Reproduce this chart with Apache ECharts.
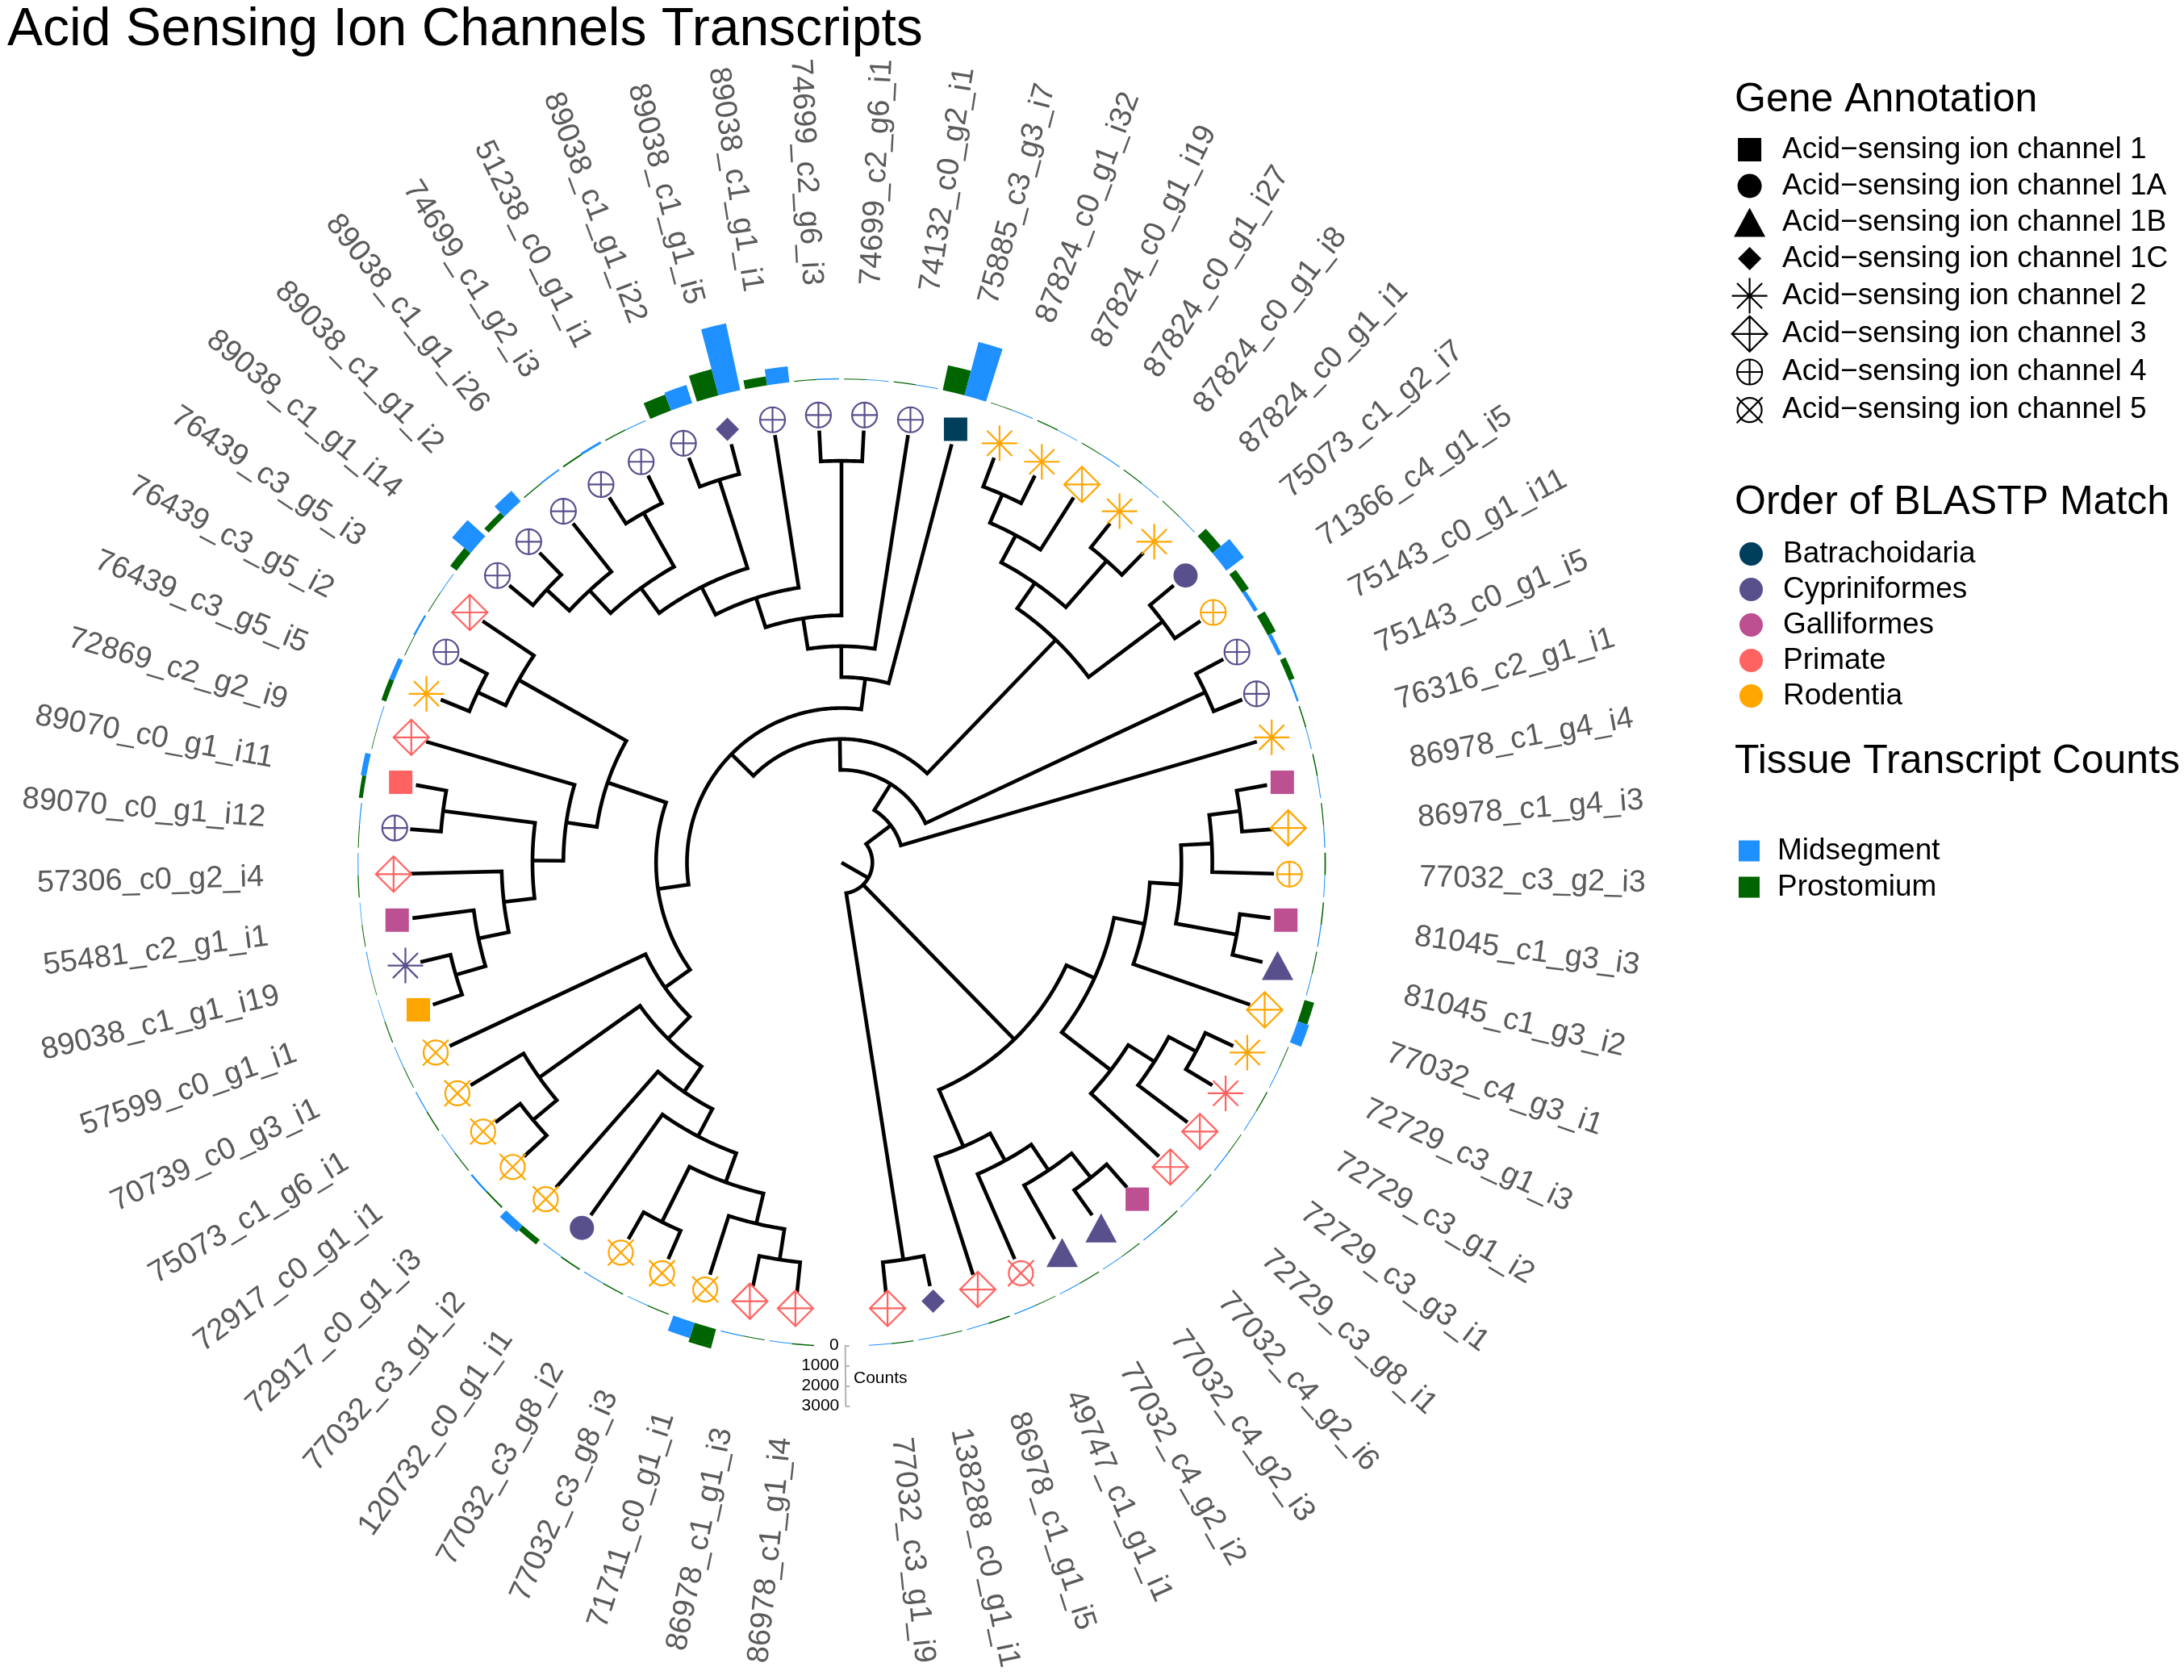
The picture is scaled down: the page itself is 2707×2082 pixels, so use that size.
<!DOCTYPE html>
<html>
  <head>
    <meta charset="utf-8" />
    <title>Acid Sensing Ion Channels Transcripts</title>
    <script src="https://cdn.jsdelivr.net/npm/echarts@6.0.0/dist/echarts.min.js"></script>
    <style>
      html, body { margin: 0; padding: 0; background: #fff; }
      #main { width: 2707px; height: 2082px; }
    </style>
  </head>
  <body>
    <div id="main"></div>
    <script type="text/javascript">
      // ---------- data ----------
      // tips in clockwise order, starting just left of the gap at the bottom
      var tipLabels = [
        '86978_c1_g1_i4', '86978_c1_g1_i3', '71711_c0_g1_i1', '77032_c3_g8_i3', '77032_c3_g8_i2',
        '120732_c0_g1_i1', '77032_c3_g1_i2', '72917_c0_g1_i3', '72917_c0_g1_i1', '75073_c1_g6_i1',
        '70739_c0_g3_i1', '57599_c0_g1_i1', '89038_c1_g1_i19', '55481_c2_g1_i1', '57306_c0_g2_i4',
        '89070_c0_g1_i12', '89070_c0_g1_i11', '72869_c2_g2_i9', '76439_c3_g5_i5', '76439_c3_g5_i2',
        '76439_c3_g5_i3', '89038_c1_g1_i14', '89038_c1_g1_i2', '89038_c1_g1_i26', '74699_c1_g2_i3',
        '51238_c0_g1_i1', '89038_c1_g1_i22', '89038_c1_g1_i5', '89038_c1_g1_i1', '74699_c2_g6_i3',
        '74699_c2_g6_i1', '74132_c0_g2_i1', '75885_c3_g3_i7', '87824_c0_g1_i32', '87824_c0_g1_i19',
        '87824_c0_g1_i27', '87824_c0_g1_i8', '87824_c0_g1_i1', '75073_c1_g2_i7', '71366_c4_g1_i5',
        '75143_c0_g1_i11', '75143_c0_g1_i5', '76316_c2_g1_i1', '86978_c1_g4_i4', '86978_c1_g4_i3',
        '77032_c3_g2_i3', '81045_c1_g3_i3', '81045_c1_g3_i2', '77032_c4_g3_i1', '72729_c3_g1_i3',
        '72729_c3_g1_i2', '72729_c3_g3_i1', '72729_c3_g8_i1', '77032_c4_g2_i6', '77032_c4_g2_i3',
        '77032_c4_g2_i2', '49747_c1_g1_i1', '86978_c1_g1_i5', '138288_c0_g1_i1', '77032_c3_g1_i9'
      ];
      var geneAnnotation = [
        '3', '3', '5', '5', '5', '1A', '5', '5', '5', '5',
        '5', '1', '2', '1', '3', '4', '1', '3', '2', '4',
        '3', '4', '4', '4', '4', '4', '4', '1C', '4', '4',
        '4', '4', '1', '2', '2', '3', '2', '2', '1A', '4',
        '4', '4', '2', '1', '3', '4', '1', '1B', '3', '2',
        '2', '3', '3', '1', '1B', '1B', '5', '3', '1C', '3'
      ];
      var blastOrder = [
        'Primate', 'Primate', 'Rodentia', 'Rodentia', 'Rodentia', 'Cypriniformes', 'Rodentia', 'Rodentia', 'Rodentia', 'Rodentia',
        'Rodentia', 'Rodentia', 'Cypriniformes', 'Galliformes', 'Primate', 'Cypriniformes', 'Primate', 'Primate', 'Rodentia', 'Cypriniformes',
        'Primate', 'Cypriniformes', 'Cypriniformes', 'Cypriniformes', 'Cypriniformes', 'Cypriniformes', 'Cypriniformes', 'Cypriniformes', 'Cypriniformes', 'Cypriniformes',
        'Cypriniformes', 'Cypriniformes', 'Batrachoidaria', 'Rodentia', 'Rodentia', 'Rodentia', 'Rodentia', 'Rodentia', 'Cypriniformes', 'Rodentia',
        'Cypriniformes', 'Cypriniformes', 'Rodentia', 'Galliformes', 'Rodentia', 'Rodentia', 'Galliformes', 'Cypriniformes', 'Rodentia', 'Rodentia',
        'Primate', 'Primate', 'Primate', 'Galliformes', 'Cypriniformes', 'Cypriniformes', 'Primate', 'Primate', 'Cypriniformes', 'Primate'
      ];
      var prostomium = [
        60, 40, 1000, 50, 60, 70, 300, 80, 50, 60,
        40, 50, 30, 40, 50, 40, 200, 30, 250, 40,
        40, 400, 300, 60, 80, 60, 850, 1350, 440, 50,
        40, 50, 1270, 40, 50, 40, 50, 40, 550, 400,
        450, 300, 60, 60, 50, 70, 60, 50, 500, 40,
        50, 40, 50, 60, 40, 50, 40, 60, 40, 50
      ];
      var midsegment = [
        40, 50, 800, 40, 50, 40, 450, 100, 40, 50,
        40, 30, 40, 30, 40, 50, 280, 40, 250, 100,
        40, 1200, 700, 80, 120, 40, 950, 3400, 800, 60,
        40, 40, 2750, 40, 30, 50, 40, 40, 1100, 200,
        200, 100, 40, 40, 50, 40, 50, 40, 600, 40,
        40, 50, 40, 50, 40, 40, 50, 40, 40, 40
      ];
      var countTicks = [0, 1000, 2000, 3000];
      // topology, tips referred to by their position above (1-based)
      var treeNewick =
        '((((((((((((((22,23),24),(25,26)),(27,28)),29),(30,31)),32),33),' +
        '(((((16,17),(15,(14,(12,13)))),18),((19,20),21)),' +
        '(11,((10,(8,9)),(7,(6,((4,5),(3,(1,2))))))))),' +
        '((((34,35),36),(37,38)),(39,40))),(41,42)),43),' +
        '((((((44,45),46),(47,48)),49),(((50,51),52),53)),(58,(57,(56,(54,55))))),' +
        '(59,60))';
      var geneTypes = ['1', '1A', '1B', '1C', '2', '3', '4', '5'];
      var orderNames = ['Batrachoidaria', 'Cypriniformes', 'Galliformes', 'Primate', 'Rodentia'];
      var tissueNames = ['Midsegment', 'Prostomium'];

      // ---------- styles ----------
      var FONT = '"Liberation Sans", Arial, Helvetica, sans-serif';
      var orderColors = {
        Batrachoidaria: '#003f5c', Cypriniformes: '#58508d', Galliformes: '#bc5090',
        Primate: '#ff6361', Rodentia: '#ffa600'
      };
      var tissueColors = { Midsegment: '#1e90ff', Prostomium: '#006400' };
      // shapes drawn in a 45x45 frame so that relative sizes survive scaling
      var F = 'M0,0M45,45';
      var geneSymbols = {
        '1': { path: F + 'M8,8H37V37H8Z', hollow: false },
        '1A': { path: F + 'M7.5,22.5A15,15 0 1,0 37.5,22.5A15,15 0 1,0 7.5,22.5Z', hollow: false },
        '1B': { path: F + 'M22.5,4.5L42,40.5L3,40.5Z', hollow: false },
        '1C': { path: F + 'M22.5,8L37,22.5L22.5,37L8,22.5Z', hollow: false },
        '2': { path: F + 'M22.5,0.5V44.5M0.5,22.5H44.5M6.94,6.94L38.06,38.06M6.94,38.06L38.06,6.94', hollow: true },
        '3': { path: F + 'M22.5,0.5L44.5,22.5L22.5,44.5L0.5,22.5ZM22.5,0.5V44.5M0.5,22.5H44.5', hollow: true },
        '4': { path: F + 'M7,22.5A15.5,15.5 0 1,0 38,22.5A15.5,15.5 0 1,0 7,22.5ZM22.5,7V38M7,22.5H38', hollow: true },
        '5': { path: F + 'M7.5,22.5A15,15 0 1,0 37.5,22.5A15,15 0 1,0 7.5,22.5ZM6.5,6.5L38.5,38.5M6.5,38.5L38.5,6.5', hollow: true }
      };
      var CENTER = [1043, 1069];
      var LEVEL_PX = 38.3;      // one cladogram step
      var TREE_MAX = 20;        // radius axis range of the tree polar
      var RING = 598.7;         // base of the count bars
      var COUNT_PX = 0.0249;    // pixels per count
      var LABEL_LEVEL = 18.7;
      var lineStyle = { stroke: '#000', lineWidth: 4.6, fill: 'none', lineJoin: 'miter' };

      function geneName(g) { return 'Acid\u2212sensing ion channel ' + g; }

      // ---------- tree layout (cladogram) ----------
      function parseNewick(s) {
        var i = 0;
        function node() {
          if (s[i] === '(') {
            i++;
            var kids = [node()];
            while (s[i] === ',') { i++; kids.push(node()); }
            i++;
            return { children: kids };
          }
          var j = i;
          while (i < s.length && /[0-9]/.test(s[i])) i++;
          return { tip: +s.slice(j, i) };
        }
        return node();
      }
      var root = parseNewick(treeNewick);
      var internal = [];
      function place(n) {
        if (n.tip != null) { n.height = 0; n.pos = n.tip; return; }
        n.children.forEach(place);
        n.height = 1 + Math.max.apply(null, n.children.map(function (c) { return c.height; }));
        n.pos = n.children.reduce(function (s, c) { return s + c.pos; }, 0) / n.children.length;
        internal.push(n);
      }
      place(root);
      var tipLevel = root.height;
      internal.forEach(function (n) { n.level = tipLevel - n.height; });
      function levelOf(n) { return n.tip != null ? tipLevel : n.level; }

      // ---------- series ----------
      var series = [];

      series.push({
        type: 'bar', name: 'Prostomium', coordinateSystem: 'polar', polarIndex: 1,
        data: ['-'].concat(prostomium), barGap: '0%', barCategoryGap: '10%',
        itemStyle: { color: tissueColors.Prostomium, opacity: 1 }, silent: true, z: 1
      });
      series.push({
        type: 'bar', name: 'Midsegment', coordinateSystem: 'polar', polarIndex: 1,
        data: ['-'].concat(midsegment), barGap: '0%', barCategoryGap: '10%',
        itemStyle: { color: tissueColors.Midsegment, opacity: 1 }, silent: true, z: 1
      });

      series.push({
        type: 'custom', coordinateSystem: 'polar', polarIndex: 0, silent: true, z: 2,
        data: internal.map(function (n) { return [n.level, n.pos]; }),
        renderItem: function (params, api) {
          var n = internal[params.dataIndex];
          var kids = n.children.slice().sort(function (a, b) { return a.pos - b.pos; });
          var a = kids[0], b = kids[kids.length - 1];
          var pts = [api.coord([levelOf(a), a.pos]), api.coord([n.level, a.pos])];
          for (var p = a.pos + 0.1; p < b.pos; p += 0.1) pts.push(api.coord([n.level, p]));
          pts.push(api.coord([n.level, b.pos]), api.coord([levelOf(b), b.pos]));
          var els = [{ type: 'polyline', shape: { points: pts }, style: lineStyle }];
          kids.slice(1, -1).forEach(function (k) {
            els.push({
              type: 'polyline',
              shape: { points: [api.coord([n.level, k.pos]), api.coord([levelOf(k), k.pos])] },
              style: lineStyle
            });
          });
          return { type: 'group', children: els };
        }
      });

      geneTypes.forEach(function (g) {
        var sym = geneSymbols[g];
        var data = [];
        geneAnnotation.forEach(function (v, i) {
          if (v !== g) return;
          var col = orderColors[blastOrder[i]];
          data.push({
            value: [tipLevel + 0.5, i + 1],
            itemStyle: sym.hollow ? { borderColor: col } : { color: col }
          });
        });
        series.push({
          type: 'scatter', name: geneName(g), coordinateSystem: 'polar', polarIndex: 0,
          symbol: 'path://' + sym.path, symbolSize: 45, silent: true, z: 4,
          itemStyle: sym.hollow
            ? { color: 'transparent', borderColor: '#000', borderWidth: 2.2, opacity: 1 }
            : { color: '#000', borderWidth: 0, opacity: 1 },
          data: data
        });
      });

      orderNames.forEach(function (o) {
        series.push({
          type: 'scatter', name: o, coordinateSystem: 'polar', polarIndex: 0,
          data: [], itemStyle: { color: orderColors[o], opacity: 1 }
        });
      });

      series.push({
        type: 'custom', coordinateSystem: 'polar', polarIndex: 0, silent: true, z: 3,
        data: tipLabels.map(function (t, i) { return [LABEL_LEVEL, i + 1]; }),
        renderItem: function (params, api) {
          var p = api.value(1);
          var pt = api.coord([api.value(0), p]);
          var c = api.coord([0, p]);
          var ang = Math.atan2(c[1] - pt[1], pt[0] - c[0]);
          var right = pt[0] >= c[0];
          return {
            type: 'text', x: pt[0], y: pt[1], rotation: right ? ang : ang + Math.PI,
            style: {
              text: tipLabels[params.dataIndex], fill: '#5a5a5a',
              fontSize: 38, fontFamily: FONT,
              align: right ? 'left' : 'right', verticalAlign: 'middle'
            }
          };
        }
      });

      // tick labels of the count scale, placed on the scale's own radius axis
      series.push({
        type: 'custom', coordinateSystem: 'polar', polarIndex: 2, silent: true, z: 3,
        data: countTicks.map(function (v) { return [v, 0]; }),
        renderItem: function (params, api) {
          var pt = api.coord([api.value(0), api.value(1)]);
          return {
            type: 'text', x: pt[0] - 8, y: pt[1],
            style: {
              text: String(countTicks[params.dataIndex]), fill: '#000',
              fontSize: 21, fontFamily: FONT, align: 'right', verticalAlign: 'middle'
            }
          };
        }
      });

      function legendText(pad) {
        return { fontSize: 37, lineHeight: 37, color: '#000', fontFamily: FONT, padding: [0, 0, 0, pad] };
      }
      var titleText = { fontSize: 50, fontWeight: 'normal', color: '#000', fontFamily: FONT };

      var option = {
        animation: false,
        backgroundColor: '#fff',
        title: [
          { text: 'Acid Sensing Ion Channels Transcripts', left: 4, top: 0,
            textStyle: { fontSize: 66, fontWeight: 'normal', color: '#000', fontFamily: FONT } },
          { text: 'Gene Annotation', left: 2145, top: 94, textStyle: titleText },
          { text: 'Order of BLASTP Match', left: 2145, top: 593, textStyle: titleText },
          { text: 'Tissue Transcript Counts', left: 2145, top: 914, textStyle: titleText },
          { text: 'Counts', left: 1053, top: 1693,
            textStyle: { fontSize: 21, fontWeight: 'normal', color: '#000', fontFamily: FONT } }
        ],
        legend: [
          {
            orient: 'vertical', left: 2140, top: 158, itemWidth: 45, itemHeight: 45, itemGap: 0,
            selectedMode: false, textStyle: legendText(13),
            data: geneTypes.map(function (g) {
              var sym = geneSymbols[g];
              return {
                name: geneName(g), icon: 'path://' + sym.path,
                itemStyle: sym.hollow
                  ? { color: 'transparent', borderColor: '#000', borderWidth: 2.2, opacity: 1 }
                  : { color: '#000', borderWidth: 0, opacity: 1 }
              };
            })
          },
          {
            orient: 'vertical', left: 2151, top: 663, itemWidth: 29, itemHeight: 29, itemGap: 7,
            selectedMode: false, textStyle: legendText(20),
            icon: 'circle', itemStyle: { opacity: 1 }, data: orderNames
          },
          {
            orient: 'vertical', left: 2150, top: 1031, itemWidth: 26, itemHeight: 26, itemGap: 8,
            selectedMode: false, textStyle: legendText(17),
            icon: 'path://M0,0H10V10H0Z', itemStyle: { opacity: 1 }, data: tissueNames
          }
        ],
        polar: [
          { center: CENTER, radius: TREE_MAX * LEVEL_PX },
          { center: CENTER, radius: [RING, RING + 4000 * COUNT_PX] },
          { center: CENTER, radius: [RING, RING + 3000 * COUNT_PX] }
        ],
        angleAxis: [
          { polarIndex: 0, type: 'value', min: 0, max: 61, startAngle: -90, clockwise: true, show: false },
          { polarIndex: 1, type: 'category', data: [''].concat(tipLabels), startAngle: -90 + 180 / 61,
            clockwise: true, show: false },
          { polarIndex: 2, type: 'value', min: 0, max: 360, startAngle: -89.55, show: false }
        ],
        radiusAxis: [
          { polarIndex: 0, type: 'value', min: 0, max: TREE_MAX, show: false },
          { polarIndex: 1, type: 'value', min: 0, max: 4000, show: false },
          {
            polarIndex: 2, type: 'value', min: 0, max: 3000, interval: 1000,
            axisLine: { show: true, lineStyle: { color: '#b3b3b3', width: 2 } },
            axisTick: { show: true, inside: true, length: 5, lineStyle: { color: '#b3b3b3', width: 2 } },
            axisLabel: { show: false },
            splitLine: { show: false }, splitArea: { show: false }
          }
        ],
        series: series
      };

      var myChart = echarts.init(document.getElementById('main'));
      myChart.setOption(option);
    </script>
  </body>
</html>
